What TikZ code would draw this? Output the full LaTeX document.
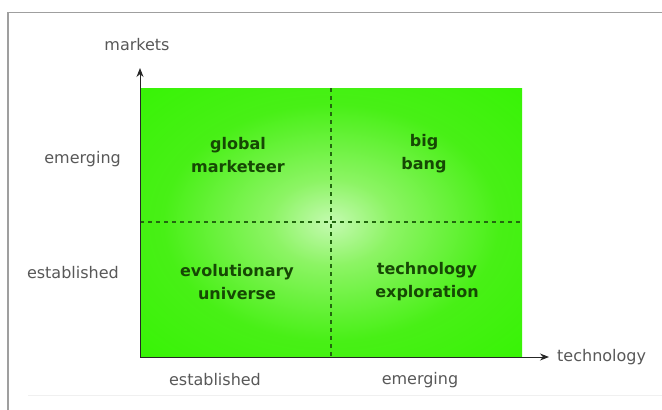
\documentclass[tikz,border=0pt]{standalone}
\usepackage{fontspec}
\setmainfont{DejaVu Sans}
\usepackage{xcolor}
\usepackage{tikz}
\usetikzlibrary{arrows.meta}
\definecolor{quadG}{RGB}{50,245,0}
\definecolor{quadN}{RGB}{72,240,22}
\definecolor{quadM}{RGB}{140,244,100}
\definecolor{quadL}{RGB}{196,250,176}
\definecolor{quadT}{RGB}{22,72,4}
\definecolor{quadD}{RGB}{34,104,14}
\definecolor{axisT}{RGB}{88,88,88}
\pgfdeclareradialshading{quadglow}{\pgfpoint{0bp}{0bp}}{color(0bp)=(quadL); color(8bp)=(quadM); color(22bp)=(quadN); color(40bp)=(quadG); color(50bp)=(quadG)}
\tikzset{quadtext/.style={align=center, text=quadT, font=\bfseries\fontsize{16}{23}\selectfont},
  axislabel/.style={text=axisT, font=\fontsize{16}{19}\selectfont, inner sep=0pt}}

\begin{document}
\begin{tikzpicture}[x=1pt, y=-1pt]
\useasboundingbox (0,0) rectangle (662,410);
% frame
\draw[gray!75, line width=1.8pt] (8,410) -- (8,12.5) -- (662,12.5);
\draw[gray!12, line width=0.8pt] (28,395) -- (662,395);
% quadrant field
\coordinate (O) at (140,357);
\coordinate (NE) at (522,88);
\coordinate (C) at (331,222);
\shade[shading=quadglow] (O) rectangle (NE);
\draw[quadD, line width=0.8pt] (O) -- (O -| NE);
\draw[quadD, line width=1.4pt, dash pattern=on 4pt off 4pt] (C |- NE) -- (C |- O);
\draw[quadD, line width=1.4pt, dash pattern=on 4pt off 4pt] (C -| O) -- (C -| NE);
% axes
\coordinate (ytip) at (140,68);
\coordinate (xtip) at (549,357);
\draw[-{Stealth[length=9pt, width=7pt]}, black!85, line width=1pt] (O) -- (ytip);
\draw[-{Stealth[length=9pt, width=7pt]}, black!85, line width=1pt] (O) -- (xtip);
\node[axislabel] (mk) at (137,45) {markets};
\node[axislabel, anchor=west] (tc) at (557,357) {technology};
\node[axislabel, anchor=east] (yem) at (121,159) {emerging};
\node[axislabel, anchor=east] (yes) at (119,273) {established};
\node[axislabel] (xes) at (215,380) {established};
\node[axislabel] (xem) at (420,380) {emerging};
% quadrant names
\node[quadtext] (gm) at (238,155) {global\\marketeer};
\node[quadtext] (bb) at (424,154) {big\\bang};
\node[quadtext] (eu) at (237,282) {evolutionary\\universe};
\node[quadtext] (te) at (427,282) {technology\\exploration};
\end{tikzpicture}
\end{document}
